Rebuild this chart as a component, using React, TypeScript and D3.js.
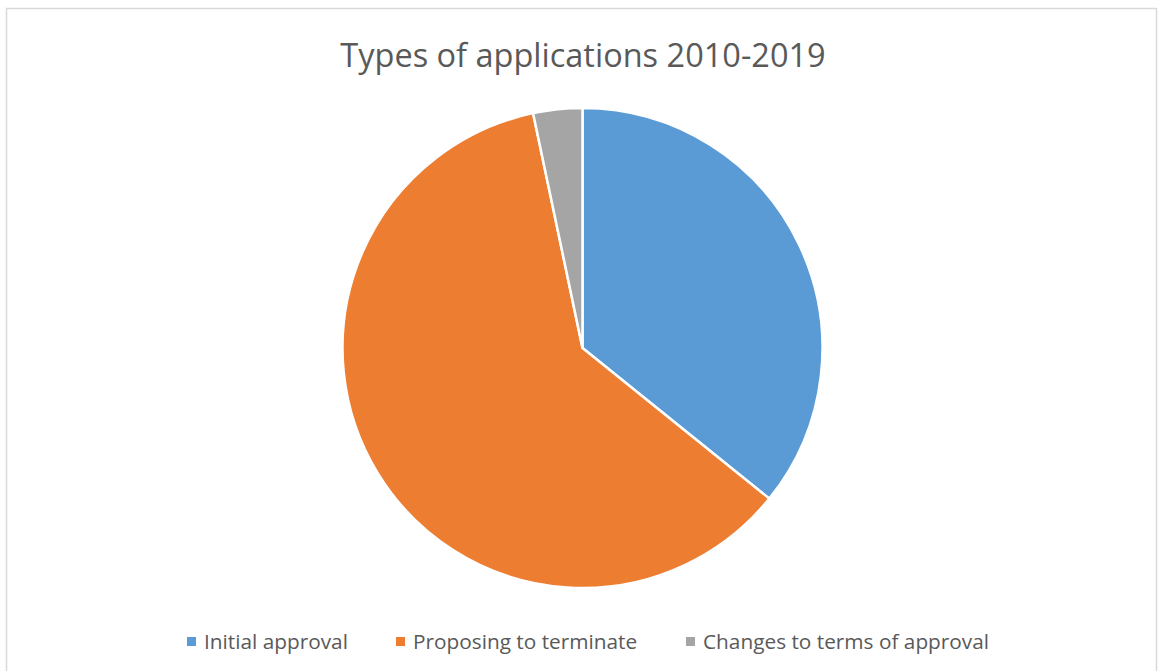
import React, { useEffect, useRef } from "react";
import * as d3 from "d3";

const categories = ["Initial approval", "Proposing to terminate", "Changes to terms of approval"];
const values = [35.8, 60.9, 3.3];
const colors = ["#5B9BD5", "#ED7D31", "#A5A5A5"];
const title = "Types of applications 2010-2019";

const W = 1160;
const H = 671;

export default function App() {
  const ref = useRef<SVGSVGElement>(null);
  useEffect(() => {
    const svg = d3.select(ref.current);
    svg.selectAll("*").remove();
    svg.append("rect").attr("x", 0).attr("y", 0).attr("width", W).attr("height", H).attr("fill", "#fff");
    svg.append("rect").attr("x", 6.5).attr("y", 8.5).attr("width", 1150).attr("height", 680)
      .attr("fill", "#fff").attr("stroke", "#d9d9d9").attr("stroke-width", 1.5);

    const font = "Open Sans, sans-serif";
    svg.append("text").attr("x", 583).attr("y", 67).attr("text-anchor", "middle")
      .attr("font-family", font).attr("font-size", 32.5).attr("fill", "#595959").text(title);

    const cx = 582.5, cy = 348, r = 240;
    const pie = d3.pie<number>().sort(null).value((d) => d);
    const arc = d3.arc<d3.PieArcDatum<number>>().innerRadius(0).outerRadius(r);
    const g = svg.append("g").attr("transform", `translate(${cx},${cy})`);
    g.selectAll("path").data(pie(values)).enter().append("path")
      .attr("d", arc as any).attr("fill", (_, i) => colors[i])
      .attr("stroke", "#fff").attr("stroke-width", 2.5).attr("stroke-linejoin", "round");

    const legendX = [187, 396, 686];
    const lg = svg.append("g");
    categories.forEach((c, i) => {
      lg.append("rect").attr("x", legendX[i]).attr("y", 637).attr("width", 9).attr("height", 9).attr("fill", colors[i]);
      lg.append("text").attr("x", legendX[i] + 17).attr("y", 649).attr("font-family", font)
        .attr("font-size", 20.8).attr("fill", "#595959").text(c);
    });
  }, []);
  return <svg ref={ref} width={W} height={H} style={{ position: "absolute", left: 0, top: 0 }} />;
}
